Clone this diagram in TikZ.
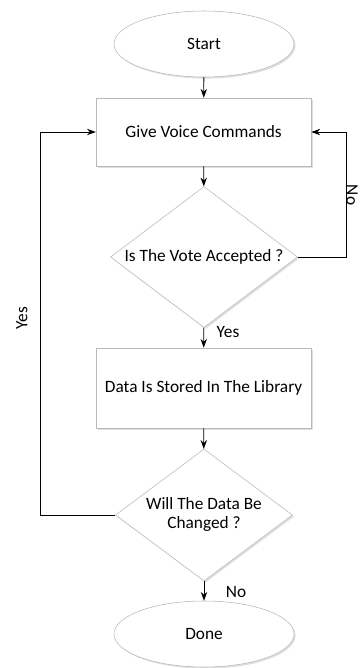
\documentclass[tikz,border=0pt]{standalone}
\usepackage{fontspec}
\setmainfont{Carlito}
\usepackage{tikz}
\usetikzlibrary{positioning, arrows.meta, shapes.geometric, shadows}

% texto de ancho cero para que el rombo no crezca
\newcommand{\nowidth}[1]{\makebox[0pt]{#1}}

\begin{document}
\begin{tikzpicture}[
    terminal/.style={ellipse, draw=gray!55, fill=white, drop shadow={opacity=0.25, shadow xshift=0.04cm, shadow yshift=-0.04cm}, minimum width=4.5cm, minimum height=1.65cm, align=center, font=\fontsize{12.3}{14.5}\selectfont},
    process/.style={rectangle, draw=gray!55, fill=white, drop shadow={opacity=0.25, shadow xshift=0.04cm, shadow yshift=-0.04cm}, minimum width=5.375cm, align=center, font=\fontsize{12.3}{14.5}\selectfont},
    decision/.style={diamond, draw=gray!55, fill=white, drop shadow={opacity=0.25, shadow xshift=0.04cm, shadow yshift=-0.04cm}, inner sep=0pt, font=\fontsize{12.3}{14.5}\selectfont},
    lbl/.style={font=\fontsize{12.3}{14.5}\selectfont},
    arrow/.style={-{Stealth[length=2.2mm, width=1.6mm]}, line width=0.6pt}
]
\useasboundingbox (0,0) rectangle (9,-16.7);

% Nodos
\node[terminal] (start) at (5.1,-1.1) {Start};
\node[process, minimum height=1.7cm] (voice) at (5.09,-3.3) {Give Voice Commands};
\node[decision, minimum width=4.675cm, minimum height=3.525cm] (vote) at (5.1,-6.425) {\nowidth{Is The Vote Accepted ?}};
\node[process, minimum height=2cm] (store) at (5.09,-9.7) {Data Is Stored In The Library};
\node[decision, minimum width=4.425cm, minimum height=3.3cm] (change) at (5.1,-12.875) {\nowidth{\begin{tabular}{@{}c@{}}Will The Data Be\\[-1pt] Changed ?\end{tabular}}};
\node[terminal] (done) at (5.1,-15.85) {Done};

% Esquinas de los lazos
\coordinate (noturn) at (8.65,-6.425);
\coordinate (yesturn) at (1.0,-12.875);

% Conexiones
\draw[arrow] (start) -- (voice);
\draw[arrow] (voice) -- (vote);
\draw[arrow] (vote) -- (store);
\draw[arrow] (store) -- (change);
\draw[arrow] (change) -- (done);
\draw[arrow] (vote.east) -- (noturn) |- (voice.east);
\draw[arrow] (change.west) -- (yesturn) |- (voice.west);

% Etiquetas
\node[lbl, rotate=-90] (nolbl) at (8.8,-4.875) {No};
\node[lbl, rotate=90] (yeslbl) at (0.55,-7.95) {Yes};
\node[lbl] (yesdown) at (5.7,-8.3) {Yes};
\node[lbl] (nodown) at (5.9,-14.8) {No};

\end{tikzpicture}
\end{document}
